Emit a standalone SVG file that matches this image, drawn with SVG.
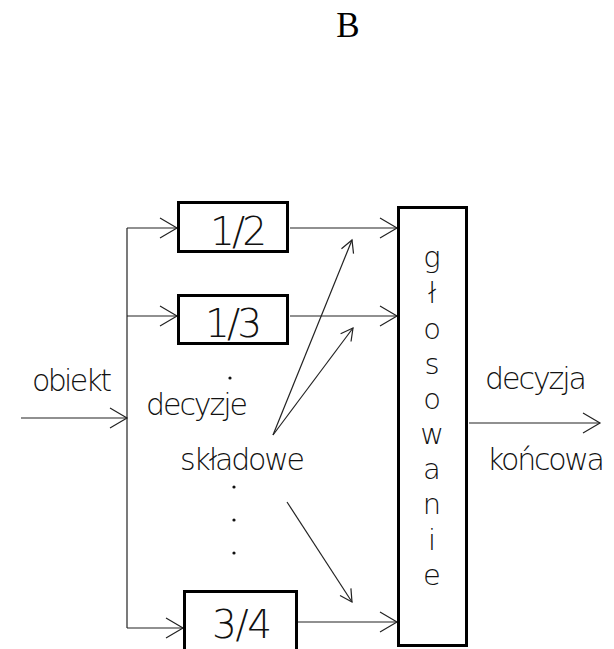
<svg xmlns="http://www.w3.org/2000/svg" width="614" height="649" viewBox="0 0 614 649">
  <style>
    .lbl { font-family: "DejaVu Sans", "Liberation Sans", sans-serif; font-size: 30px; font-weight: 200; fill: #111; }
    .num { font-family: "DejaVu Sans", "Liberation Sans", sans-serif; font-size: 39px; font-weight: 200; fill: #111; }
    .vl { font-family: "DejaVu Sans", "Liberation Sans", sans-serif; font-size: 29px; font-weight: 200; fill: #111; text-anchor: middle; }
    .box { fill: #fff; stroke: #000; stroke-width: 3; }
    .wire { fill: none; stroke: #222; stroke-width: 1.2; }
    .head { fill: none; stroke: #222; stroke-width: 1.2; }
  </style>
  <defs>
    <marker id="arrow" markerUnits="userSpaceOnUse" viewBox="-18 -11 19 22" refX="0" refY="0" markerWidth="19" markerHeight="22" orient="auto" overflow="visible">
      <path class="head" d="M-17,-10 L0,0 L-17,10"/>
    </marker>
    <marker id="arrow-sm" markerUnits="userSpaceOnUse" viewBox="-13 -8 14 16" refX="0" refY="0" markerWidth="14" markerHeight="16" orient="auto" overflow="visible">
      <path class="head" d="M-12,-6.5 L0,0 L-12,6.5"/>
    </marker>
  </defs>

  <rect width="614" height="649" fill="#fff"/>

  <text x="348" y="37" font-family="Liberation Serif, serif" font-size="35" text-anchor="middle" fill="#000">B</text>

  <g id="connectors">
    <!-- input and distribution trunk -->
    <path class="wire" d="M21,418 H127" marker-end="url(#arrow)"/>
    <path class="wire" d="M127,228 V628"/>
    <path class="wire" d="M127,228 H177" marker-end="url(#arrow)"/>
    <path class="wire" d="M127,316 H177" marker-end="url(#arrow)"/>
    <path class="wire" d="M127,628 H183" marker-end="url(#arrow)"/>
    <!-- classifier outputs to voting -->
    <path class="wire" d="M290,228 H397" marker-end="url(#arrow)"/>
    <path class="wire" d="M290,316 H397" marker-end="url(#arrow)"/>
    <path class="wire" d="M298,622 H397" marker-end="url(#arrow)"/>
    <!-- partial decisions pointers -->
    <path class="wire" d="M273,435 L352,240" marker-end="url(#arrow-sm)"/>
    <path class="wire" d="M273,435 L353,328" marker-end="url(#arrow-sm)"/>
    <path class="wire" d="M287,502 L352,602" marker-end="url(#arrow-sm)"/>
    <!-- final decision -->
    <path class="wire" d="M469,423 H600" marker-end="url(#arrow)"/>
  </g>

  <g id="clf-1-2">
    <rect class="box" x="178.5" y="202.5" width="109" height="49"/>
    <text class="num" x="210" y="245" textLength="57" lengthAdjust="spacing">1/2</text>
  </g>

  <g id="clf-1-3">
    <rect class="box" x="178.5" y="295.5" width="109" height="48"/>
    <text class="num" x="205" y="337" textLength="57" lengthAdjust="spacing">1/3</text>
  </g>

  <g id="clf-3-4">
    <rect class="box" x="184.5" y="591.5" width="112" height="70"/>
    <text class="num" x="212" y="638" textLength="60" lengthAdjust="spacing">3/4</text>
  </g>

  <g id="voting">
    <rect class="box" x="398.5" y="207.5" width="68" height="438"/>
    <text class="vl" x="432" y="267">g</text>
    <text class="vl" x="432" y="303">ł</text>
    <text class="vl" x="432" y="339">o</text>
    <text class="vl" x="432" y="374">s</text>
    <text class="vl" x="432" y="409">o</text>
    <text class="vl" x="432" y="444">w</text>
    <text class="vl" x="432" y="479">a</text>
    <text class="vl" x="432" y="514">n</text>
    <text class="vl" x="432" y="550">i</text>
    <text class="vl" x="432" y="585">e</text>
  </g>

  <g id="labels">
    <text class="lbl" x="32" y="391" textLength="80" lengthAdjust="spacing">obiekt</text>
    <text class="lbl" x="146" y="415" textLength="102" lengthAdjust="spacing">decyzje</text>
    <text class="lbl" x="180" y="470" textLength="125" lengthAdjust="spacing">składowe</text>
    <text class="lbl" x="485" y="389" textLength="102" lengthAdjust="spacing">decyzja</text>
    <text class="lbl" x="487" y="470" textLength="118" lengthAdjust="spacing">końcowa</text>
  </g>

  <g id="ellipsis" fill="#111">
    <circle cx="230" cy="378" r="1.6"/>
    <circle cx="234" cy="487" r="1.6"/>
    <circle cx="234" cy="520" r="1.6"/>
    <circle cx="234" cy="553" r="1.6"/>
  </g>
</svg>
